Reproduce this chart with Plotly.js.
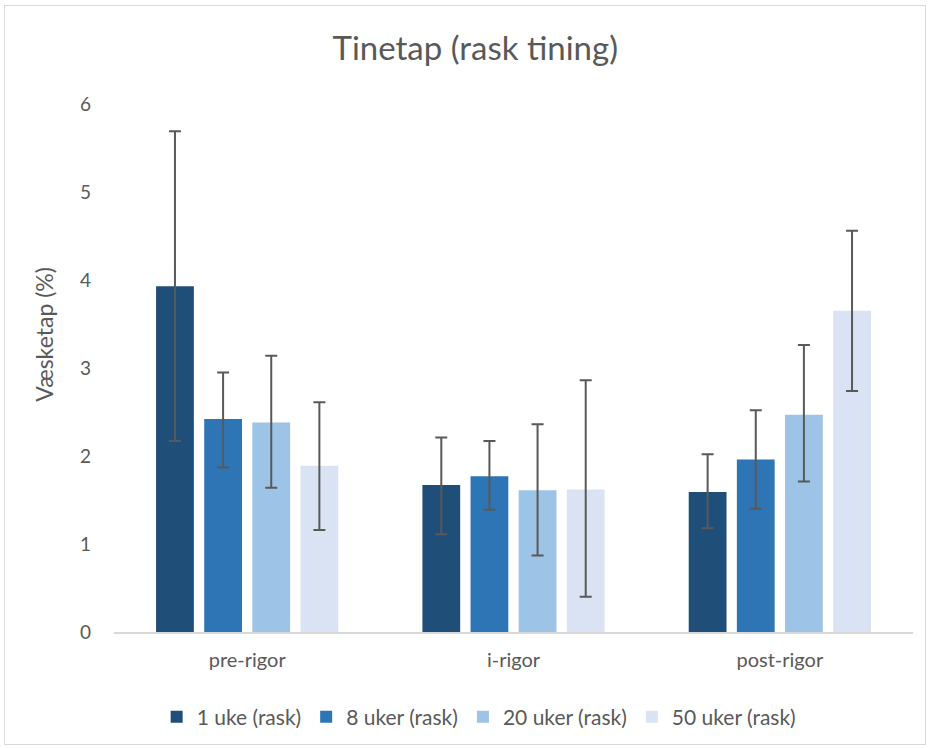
<!DOCTYPE html>
<html>
<head>
<meta charset="utf-8">
<script src="https://cdn.plot.ly/plotly-3.0.1.min.js"></script>
<style>
html,body{margin:0;padding:0;background:#fff;}
#frame{position:absolute;left:4px;top:5px;width:922px;height:740px;border:1px solid #d9d9d9;box-sizing:border-box;}
#chart{position:absolute;left:0;top:0;width:930px;height:748px;}
</style>
</head>
<body>
<div id="frame"></div>
<div id="chart"></div>
<script>
const categories = ["pre-rigor", "i-rigor", "post-rigor"];
const seriesNames = ["1 uke (rask)", "8 uker (rask)", "20 uker (rask)", "50 uker (rask)"];
const uke1 = [3.93, 1.67, 1.59];
const uker8 = [2.42, 1.77, 1.96];
const uker20 = [2.38, 1.61, 2.47];
const uker50 = [1.89, 1.62, 3.65];
const uke1Upper = [5.69, 2.21, 2.02];
const uke1Lower = [2.17, 1.11, 1.18];
const uker8Upper = [2.95, 2.17, 2.52];
const uker8Lower = [1.87, 1.39, 1.40];
const uker20Upper = [3.14, 2.36, 3.26];
const uker20Lower = [1.64, 0.87, 1.71];
const uker50Upper = [2.61, 2.86, 4.56];
const uker50Lower = [1.16, 0.40, 2.74];
const yTicks = [0, 1, 2, 3, 4, 5, 6];
const yAxisTitle = "Væsketap (%)";

const colors = ["#1f4e79", "#2e75b6", "#9dc3e6", "#dae3f3"];
const values = [uke1, uker8, uker20, uker50];
const uppers = [uke1Upper, uker8Upper, uker20Upper, uker50Upper];
const lowers = [uke1Lower, uker8Lower, uker20Lower, uker50Lower];

const font = "Lato, 'Open Sans', sans-serif";
const traces = values.map((v, i) => ({
  type: "bar",
  name: seriesNames[i],
  x: categories,
  y: v,
  marker: {color: colors[i]},
  error_y: {
    type: "data",
    symmetric: false,
    array: v.map((val, j) => +(uppers[i][j] - val).toFixed(3)),
    arrayminus: v.map((val, j) => +(val - lowers[i][j]).toFixed(3)),
    color: "#595959",
    thickness: 2,
    width: 6
  },
  hoverinfo: "x+y+name"
}));

const layout = {
  width: 930, height: 748,
  paper_bgcolor: "rgba(0,0,0,0)",
  plot_bgcolor: "rgba(0,0,0,0)",
  margin: {l: 114, r: 17, t: 104, b: 115},
  title: {
    text: "Tinetap (rask tining)",
    font: {family: font, size: 33, color: "#595959"},
    xref: "container", x: 0.511, xanchor: "center",
    yref: "container", y: 0.935, yanchor: "middle"
  },
  barmode: "group",
  bargap: 0.277,
  bargroupgap: 0.215,
  font: {family: font, color: "#595959"},
  xaxis: {
    type: "category",
    showline: true, linecolor: "#d9d9d9", linewidth: 1.5,
    ticks: "", showgrid: false,
    tickfont: {family: font, size: 20, color: "#595959"},
    ticklabelstandoff: 9
  },
  yaxis: {
    range: [0, 6],
    tickvals: yTicks,
    ticktext: yTicks.map(String),
    showgrid: false, zeroline: false, showline: false,
    tickfont: {family: font, size: 19, color: "#595959"},
    ticklabelstandoff: 22
  },
  annotations: [{
    text: yAxisTitle,
    xref: "paper", yref: "paper",
    x: -0.0876, y: 0.563,
    xanchor: "center", yanchor: "middle",
    textangle: -90, showarrow: false,
    font: {family: font, size: 23, color: "#595959"}
  }],
  legend: {
    orientation: "h",
    x: 0.457, xanchor: "center",
    y: -0.159, yanchor: "middle",
    font: {family: font, size: 21, color: "#595959"},
    traceorder: "normal",
    itemwidth: 30
  },
  showlegend: true
};

Plotly.newPlot("chart", traces, layout, {displayModeBar: false, staticPlot: true});
</script>
</body>
</html>
